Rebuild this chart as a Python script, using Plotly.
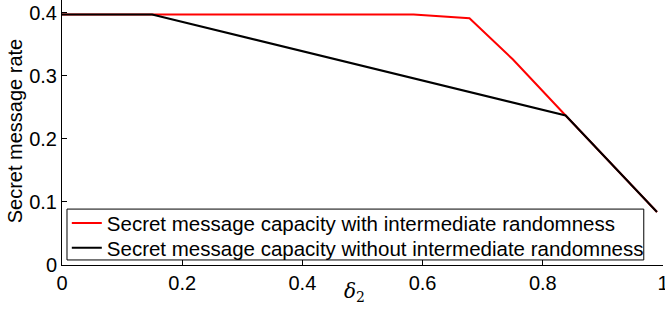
import plotly.graph_objects as go

x_with = [0, 0.15, 0.585, 0.678, 0.75, 0.838, 0.99]
y_with = [0.397, 0.397, 0.397, 0.391, 0.326, 0.237, 0.084]
x_without = [0, 0.15, 0.838, 0.99]
y_without = [0.397, 0.397, 0.237, 0.084]
x_ticks = [0, 0.2, 0.4, 0.6, 0.8, 1]
x_ticklabels = ["0", "0.2", "0.4", "0.6", "0.8", "1"]
y_ticks = [0, 0.1, 0.2, 0.3, 0.4]
y_ticklabels = ["0", "0.1", "0.2", "0.3", "0.4"]

fam = "Liberation Sans, Arial, sans-serif"
legfont = dict(family=fam, size=20.5, color="black")

fig = go.Figure()
fig.add_trace(go.Scatter(x=x_with, y=y_with, mode="lines",
                         line=dict(color="#ff0000", width=2), legend="legend",
                         name="Secret message capacity with intermediate randomness"))
fig.add_trace(go.Scatter(x=x_without, y=y_without, mode="lines",
                         line=dict(color="#000000", width=2), legend="legend2",
                         name="Secret message capacity without intermediate randomness"))

fig.update_layout(
    width=665, height=313,
    margin=dict(l=62, r=2, t=0, b=48, autoexpand=False),
    paper_bgcolor="white", plot_bgcolor="white",
    font=dict(family=fam, size=20, color="black"),
    showlegend=True,
    legend=dict(x=0.008, y=0.158, xanchor="left", yanchor="middle",
                borderwidth=0, bgcolor="rgba(0,0,0,0)", font=legfont, itemwidth=30),
    legend2=dict(x=0.008, y=0.064, xanchor="left", yanchor="middle",
                 borderwidth=0, bgcolor="rgba(0,0,0,0)", font=legfont, itemwidth=30),
    shapes=[dict(type="rect", xref="paper", yref="paper",
                 x0=0.0083, x1=0.968, y0=0.019, y1=0.211,
                 line=dict(color="black", width=1), fillcolor="white", layer="above")],
    annotations=[
        dict(text="<i>δ</i><sub>2</sub>", x=0.4875, y=-0.1, xref="paper", yref="paper",
             xanchor="center", yanchor="middle", showarrow=False,
             font=dict(family="DejaVu Serif, serif", size=20, color="black")),
        dict(text="Secret message rate", x=-0.078, y=0.505, xref="paper", yref="paper",
             xanchor="center", yanchor="middle", textangle=-90, showarrow=False,
             font=dict(family=fam, size=20, color="black")),
    ],
)
fig.update_xaxes(range=[0, 1], tickvals=x_ticks, ticktext=x_ticklabels,
                 showgrid=False, zeroline=False, showline=True, linecolor="black",
                 linewidth=1, ticks="inside", ticklen=5, tickcolor="black",
                 automargin=False, ticklabelstandoff=0, ticklabeloverflow="allow")
fig.update_yaxes(range=[0, 0.42], tickvals=y_ticks, ticktext=y_ticklabels,
                 showgrid=False, zeroline=False, showline=True, linecolor="black",
                 linewidth=1, ticks="inside", ticklen=5, tickcolor="black",
                 automargin=False, ticklabeloverflow="allow")

fig.write_html("out.html", post_script="document.body.style.margin='0';",
               config={"displayModeBar": False})
